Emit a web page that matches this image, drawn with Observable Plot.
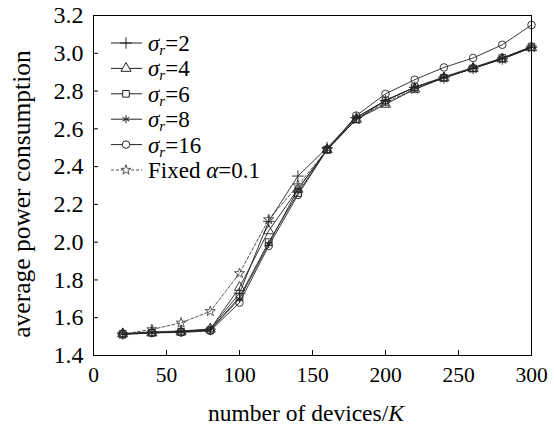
<!DOCTYPE html>
<html>
<head>
<meta charset="utf-8">
<script src="https://cdn.jsdelivr.net/npm/d3@7"></script>
<script src="https://cdn.jsdelivr.net/npm/@observablehq/plot@0.6"></script>
<style>
  html, body { margin: 0; padding: 0; background: #fff; }
  svg { display: block; }
  #chart svg, #chart svg text { font-family: 'Liberation Serif', 'Times New Roman', serif !important; }
</style>
</head>
<body>
<div id="chart"></div>
<script>
const devices = [20, 40, 60, 80, 100, 120, 140, 160, 180, 200, 220, 240, 260, 280, 300];
const sigma2  = [1.515, 1.525, 1.530, 1.540, 1.730, 2.110, 2.350, 2.500, 2.660, 2.750, 2.820, 2.870, 2.920, 2.970, 3.030];
const sigma4  = [1.515, 1.520, 1.525, 1.540, 1.760, 2.060, 2.280, 2.490, 2.650, 2.730, 2.810, 2.870, 2.920, 2.970, 3.030];
const sigma6  = [1.515, 1.520, 1.525, 1.535, 1.710, 2.000, 2.260, 2.490, 2.650, 2.750, 2.820, 2.870, 2.920, 2.975, 3.035];
const sigma8  = [1.515, 1.520, 1.525, 1.535, 1.700, 1.990, 2.280, 2.490, 2.660, 2.750, 2.820, 2.875, 2.925, 2.975, 3.035];
const sigma16 = [1.510, 1.520, 1.522, 1.530, 1.680, 1.980, 2.250, 2.490, 2.670, 2.785, 2.860, 2.925, 2.975, 3.045, 3.150];
const fixedAlpha = [1.513, 1.538, 1.573, 1.634, 1.835, 2.120, 2.300, 2.490, 2.650, 2.740, 2.810, 2.870, 2.920, 2.970, 3.030];

const seriesKeys = ["s2", "s4", "s6", "s8", "s16", "fixed"];
const seriesSigma = ["2", "4", "6", "8", "16", null];
const seriesSymbols = ["plus", "triangle", "square", "asterisk", "circle", "star"];
const xTicks = [0, 50, 100, 150, 200, 250, 300];
const yTicks = [1.4, 1.6, 1.8, 2.0, 2.2, 2.4, 2.6, 2.8, 3.0, 3.2];

const seriesValues = [sigma2, sigma4, sigma6, sigma8, sigma16, fixedAlpha];
const rows = [];
seriesKeys.forEach((k, i) => devices.forEach((d, j) => rows.push({x: d, y: seriesValues[i][j], series: k})));
const solidRows = rows.filter(r => r.series !== "fixed");
const fixedRows = rows.filter(r => r.series === "fixed");

const FONT = "'Liberation Serif', 'Times New Roman', serif";

const chart = Plot.plot({
  width: 554,
  height: 427,
  marginLeft: 93,
  marginRight: 23,
  marginTop: 15,
  marginBottom: 72,
  style: {fontFamily: FONT, fontSize: "20px", color: "#000", background: "#fff"},
  x: {domain: [0, 300]},
  y: {domain: [1.4, 3.2]},
  symbol: {domain: seriesKeys, range: seriesSymbols},
  marks: [
    Plot.axisX({ticks: xTicks, tickSize: 0, tickPadding: 11, tickFormat: d => d, label: null, fontSize: 21.5}),
    Plot.axisX({ticks: xTicks, tickSize: -5, tickFormat: () => "", label: null}),
    Plot.axisY({ticks: yTicks, tickSize: 0, tickPadding: 10, tickFormat: d3.format(".1f"), label: null, fontSize: 24}),
    Plot.axisY({ticks: yTicks, tickSize: -5, tickFormat: () => "", label: null}),
    Plot.line(fixedRows, {x: "x", y: "y", stroke: "#555", strokeWidth: 1, strokeDasharray: "3,2"}),
    Plot.line(solidRows, {x: "x", y: "y", z: "series", stroke: "#222", strokeWidth: 0.9}),
    Plot.dot(fixedRows, {x: "x", y: "y", symbol: "series", stroke: "#555", fill: "none", r: 3.2, strokeWidth: 1}),
    Plot.dot(solidRows, {x: "x", y: "y", symbol: "series", stroke: "#222", fill: "none", r: 3.8, strokeWidth: 0.9}),
    Plot.frame({stroke: "#000", strokeWidth: 1})
  ]
});
document.getElementById("chart").appendChild(chart);

const svg = d3.select(chart);

// Axis titles
svg.append("text")
  .attr("transform", "translate(24,194) rotate(-90)")
  .attr("text-anchor", "middle")
  .attr("dominant-baseline", "middle")
  .style("font-size", "25.5px").attr("fill", "#000")
  .text("average power consumption");

const xt = svg.append("text")
  .attr("x", 306).attr("y", 421)
  .attr("text-anchor", "middle")
  .style("font-size", "23.5px").attr("fill", "#000");
xt.append("tspan").text("number of devices/");
xt.append("tspan").attr("font-style", "italic").text("K");

// Legend
const symMap = {plus: d3.symbolPlus, triangle: d3.symbolTriangle, square: d3.symbolSquare,
  asterisk: d3.symbolAsterisk, circle: d3.symbolCircle, star: d3.symbolStar};
const lg = svg.append("g").attr("text-anchor", "start");
seriesKeys.forEach((k, i) => {
  const y = 43 + i * 25.4;
  const isFixed = k === "fixed";
  const col = isFixed ? "#555" : "#222";
  lg.append("line").attr("x1", 111).attr("x2", 142).attr("y1", y).attr("y2", y)
    .attr("stroke", col).attr("stroke-width", 1)
    .attr("stroke-dasharray", isFixed ? "3,2" : null);
  lg.append("path").attr("transform", `translate(126,${y})`)
    .attr("d", d3.symbol(symMap[seriesSymbols[i]], isFixed ? 10 * Math.PI : 14 * Math.PI)())
    .attr("fill", "#fff").attr("stroke", col).attr("stroke-width", 1);
  const t = lg.append("text").attr("x", 148).attr("y", y + 8)
    .attr("text-anchor", "start")
    .style("font-size", "23px").attr("fill", "#000");
  if (isFixed) {
    t.append("tspan").text("Fixed ");
    t.append("tspan").attr("font-style", "italic").text("α");
    t.append("tspan").text("=0.1");
  } else {
    t.append("tspan").attr("font-style", "italic").text("σ");
    t.append("tspan").attr("font-style", "italic").attr("font-size", "15px").attr("dy", "4").text("r");
    t.append("tspan").attr("dy", "-4").text("=" + seriesSigma[i]);
  }
});
</script>
</body>
</html>
